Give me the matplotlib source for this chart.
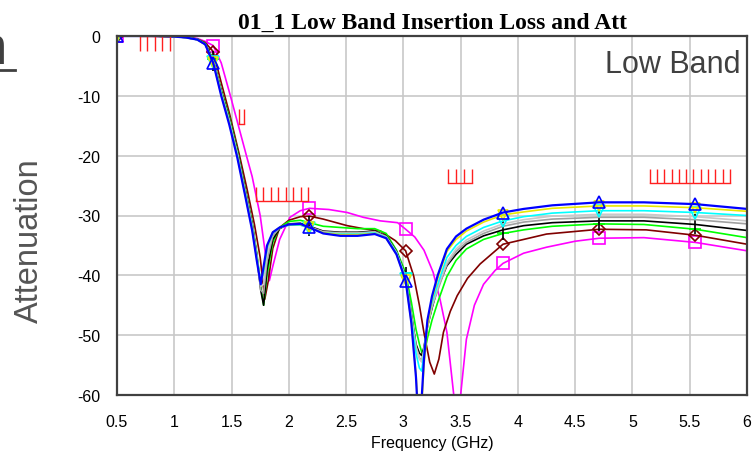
import numpy as np
import matplotlib
matplotlib.use("Agg")
import matplotlib.pyplot as plt
from matplotlib.lines import Line2D

plt.rcParams['font.family'] = ['Liberation Sans', 'DejaVu Sans']
plt.rcParams['axes.unicode_minus'] = False

# marker frequencies (GHz)
MARK_F = [0.5, 1.34, 2.18, 3.02, 3.87, 4.71, 5.55]

# shared frequency grid for the main group of traces
F = [0.5, 0.8, 1.0, 1.1, 1.2, 1.27, 1.34, 1.41, 1.48, 1.55, 1.62, 1.68, 1.72, 1.755, 1.78,
     1.81, 1.86, 1.92, 2.0, 2.1, 2.18, 2.3, 2.45, 2.6, 2.75, 2.85, 2.94, 3.02, 3.07, 3.11,
     3.14, 3.16, 3.18, 3.21, 3.25, 3.3, 3.38, 3.46, 3.55, 3.7, 3.87, 4.05, 4.3, 4.71, 5.1,
     5.55, 6.0]

blue = [0, 0, -0.1, -0.25, -0.6, -1.4, -4.5, -10.0, -14.8, -20.3, -26.8, -32.5, -37.5, -41.5, -38.5,
        -35.0, -32.8, -32.0, -31.5, -31.4, -32.0, -33.0, -33.4, -33.4, -33.1, -33.8, -36.5, -40.9, -48.0, -57.0,
        -68.0, -60.5, -54.0, -47.5, -43.5, -40.0, -35.6, -33.5, -32.2, -30.7, -29.5, -28.9, -28.3, -27.8, -27.8,
        -28.1, -28.9]
yellow = [0, 0, -0.1, -0.25, -0.6, -1.4, -4.4, -9.8, -14.5, -20.0, -26.6, -32.3, -37.2, -41.3, -39.0,
          -35.3, -32.8, -32.0, -31.5, -31.5, -32.0, -32.9, -33.2, -33.2, -33.0, -33.8, -36.5, -40.8, -48.0, -56.5,
          -66.0, -62.0, -55.0, -48.5, -44.0, -40.5, -36.0, -34.0, -32.6, -31.1, -29.9, -29.4, -28.8, -28.4, -28.4,
          -28.7, -29.3]
cyan = [0, 0, -0.1, -0.25, -0.6, -1.4, -4.3, -9.6, -14.3, -19.8, -26.4, -32.0, -37.0, -41.0, -39.5,
        -35.5, -32.9, -32.0, -31.6, -31.6, -32.1, -32.9, -33.1, -33.1, -32.9, -33.7, -36.3, -40.6, -47.5, -53.0,
        -55.5, -56.0, -53.0, -48.0, -44.5, -41.5, -37.0, -35.0, -33.5, -32.0, -30.9, -30.2, -29.6, -29.2, -29.2,
        -29.5, -30.0]
gray1 = [0, 0, -0.1, -0.25, -0.6, -1.4, -4.2, -9.5, -14.2, -19.6, -26.2, -31.8, -36.8, -41.8, -41.5,
         -36.5, -33.0, -32.0, -31.6, -31.6, -32.0, -32.8, -33.0, -33.0, -32.8, -33.6, -36.2, -40.4, -47.0, -52.0,
         -54.0, -54.5, -52.5, -48.5, -45.0, -42.0, -37.8, -35.6, -34.1, -32.6, -31.4, -30.7, -30.1, -29.8, -29.8,
         -30.2, -30.9]
gray2 = [0, 0, -0.1, -0.25, -0.6, -1.4, -4.2, -9.4, -14.0, -19.5, -26.0, -31.6, -36.7, -42.5, -43.0,
         -37.5, -33.4, -32.1, -31.5, -31.5, -31.9, -32.7, -32.9, -32.9, -32.7, -33.5, -36.1, -40.3, -46.8, -51.8,
         -53.8, -54.2, -52.4, -48.6, -45.3, -42.5, -38.2, -36.0, -34.5, -33.0, -31.8, -31.1, -30.6, -30.3, -30.3,
         -30.7, -31.4]
black = [0, 0, -0.1, -0.25, -0.6, -1.3, -4.1, -9.2, -13.8, -19.2, -25.8, -31.4, -36.6, -42.5, -45.0,
         -39.0, -34.0, -32.2, -31.4, -31.3, -31.8, -32.6, -32.8, -32.8, -32.6, -33.4, -36.0, -40.2, -46.5, -51.5,
         -53.0, -53.4, -52.0, -48.6, -45.5, -42.0, -38.4, -36.5, -34.8, -33.4, -32.4, -31.7, -31.2, -30.9, -30.9,
         -31.5, -32.5]
green = [0, 0, -0.1, -0.2, -0.5, -1.2, -3.9, -9.0, -13.5, -19.0, -25.6, -31.2, -36.2, -41.8, -45.0,
         -40.0, -34.5, -32.0, -31.0, -30.8, -31.2, -31.8, -32.0, -32.2, -32.2, -33.0, -35.8, -39.6, -44.5, -49.0,
         -51.5, -52.8, -53.4, -50.5, -47.5, -44.5, -40.2, -37.5, -35.6, -34.0, -33.0, -32.4, -31.8, -31.4, -31.5,
         -32.3, -33.7]

# maroon trace
FM = [0.5, 0.8, 1.0, 1.1, 1.2, 1.27, 1.34, 1.41, 1.48, 1.57, 1.64, 1.7, 1.75, 1.79, 1.82,
      1.86, 1.92, 2.0, 2.1, 2.18, 2.3, 2.51, 2.65, 2.8, 2.93, 3.02, 3.09, 3.14, 3.18, 3.23,
      3.27, 3.31, 3.35, 3.41, 3.47, 3.56, 3.67, 3.87, 4.05, 4.25, 4.71, 5.12, 5.55, 6.0]
maroon = [0, 0, -0.1, -0.2, -0.5, -1.1, -2.6, -7.8, -12.8, -20.0, -26.0, -31.5, -37.0, -44.0, -41.0,
          -35.5, -32.0, -30.8, -30.2, -30.1, -30.6, -31.7, -32.2, -32.6, -34.2, -35.9, -40.1, -45.0, -49.6, -54.5,
          -56.5, -54.0, -49.5, -46.0, -43.4, -40.5, -38.1, -34.8, -34.0, -33.1, -32.3, -32.4, -33.3, -34.8]

# magenta trace
FG = [0.5, 0.8, 1.0, 1.1, 1.2, 1.27, 1.34, 1.41, 1.49, 1.56, 1.63, 1.68, 1.75, 1.8, 1.83,
      1.86, 1.92, 2.01, 2.1, 2.18, 2.35, 2.51, 2.65, 2.8, 2.95, 3.02, 3.1, 3.18, 3.26, 3.32,
      3.38, 3.44, 3.47, 3.5, 3.55, 3.62, 3.7, 3.8, 3.87, 4.05, 4.25, 4.5, 4.71, 5.1, 5.55, 6.0]
magenta = [0, 0, 0, -0.1, -0.4, -0.9, -1.6, -4.5, -10.0, -15.0, -20.0, -23.5, -30.0, -37.0, -40.9,
           -38.5, -34.0, -30.3, -29.2, -28.8, -29.0, -29.5, -30.3, -30.9, -31.2, -32.3, -33.6, -35.8, -39.5, -44.0,
           -49.5, -60.0, -70.0, -60.0, -50.7, -45.0, -41.5, -39.2, -38.0, -36.3, -35.3, -34.3, -33.8, -33.7, -34.5,
           -35.9]

# red spec combs
SPEC_START = [0.70, 1.567, 1.713, 3.39, 5.15]
SPEC_STOP = [0.96, 1.608, 2.17, 3.60, 5.85]
SPEC_LEVEL = [0.0, -14.7, -27.6, -24.6, -24.6]
SPEC_TICK = [-2.5, 2.5, 2.3, 2.4, 2.4]
SPEC_N = [5, 2, 8, 4, 12]

XTICKS = [0.5, 1, 1.5, 2, 2.5, 3, 3.5, 4, 4.5, 5, 5.5, 6]
XLABELS = ['0.5', '1', '1.5', '2', '2.5', '3', '3.5', '4', '4.5', '5', '5.5', '6']
YTICKS = [0, -10, -20, -30, -40, -50, -60]


def mark_idx(freqs):
    return [i for i, f in enumerate(freqs) if any(abs(f - m) < 1e-6 for m in MARK_F)]


fig = plt.figure(figsize=(7.53, 4.60), dpi=100)
ax = fig.add_axes([117/753, 1-396/460, 630/753, 359/460])

traces = [
    (FG, magenta, '#ff00ff', 's', 9, 1.2),
    (FM, maroon, '#800000', 'D', 6, 1.2),
    (F, green, '#00ff00', '_', 9, 1.2),
    (F, black, '#000000', '|', 14, 1.2),
    (F, gray2, '#a0a0a0', None, 0, 1.2),
    (F, gray1, '#c8c8c8', None, 0, 1.2),
    (F, cyan, '#00ffff', 'v', 8, 1.2),
    (F, yellow, '#e8e800', 'v', 7, 1.2),
    (F, blue, '#0000ff', '^', 9, 1.6),
]
for fx, fy, col, mk, ms, lw in traces:
    if mk:
        ax.plot(fx, fy, color=col, lw=lw, marker=mk, ms=ms, mfc='none', mec=col,
                mew=1.2, markevery=mark_idx(fx))
    else:
        ax.plot(fx, fy, color=col, lw=lw)

for x0, x1, lev, dy, n in zip(SPEC_START, SPEC_STOP, SPEC_LEVEL, SPEC_TICK, SPEC_N):
    ax.plot([x0, x1], [lev, lev], color='#ff2020', lw=1)
    ax.vlines(np.linspace(x0, x1, n), lev, lev + dy, color='#ff2020', lw=1)

ax.set_xlim(0.5, 6)
ax.set_ylim(-60, 0)
ax.set_xticks(XTICKS)
ax.set_xticklabels(XLABELS)
ax.set_yticks(YTICKS)
ax.tick_params(length=0, labelsize=11.5, colors='black')
ax.tick_params(axis='x', pad=14)
ax.tick_params(axis='y', pad=12)
ax.grid(True, color='#c8c8c8', lw=1.2)
ax.set_axisbelow(True)
for s in ax.spines.values():
    s.set_color('#404040')
    s.set_linewidth(1.6)

ax.set_xlabel('Frequency (GHz)', fontsize=11.5, labelpad=4)
ax.set_ylabel('Attenuation', fontsize=23.5, color='#555555')
ax.yaxis.set_label_coords(-0.114, 0.432)
ax.set_title('01_1 Low Band Insertion Loss and Att', family='Liberation Serif',
             fontweight='bold', fontsize=17, pad=6)
ax.text(0.989, 0.922, 'Low Band', transform=ax.transAxes, ha='right', va='center',
        fontsize=22, color='#404040')

# cut-off heading from the neighbouring slide
fig.text(7/753, 1-50/460, 'n', ha='right', va='center', fontsize=38, color='#404040')
fig.add_artist(Line2D([0, 15/753], [1-71/460, 1-71/460], color='#404040', lw=2,
                      transform=fig.transFigure))

fig.savefig('out.png', dpi=100)
